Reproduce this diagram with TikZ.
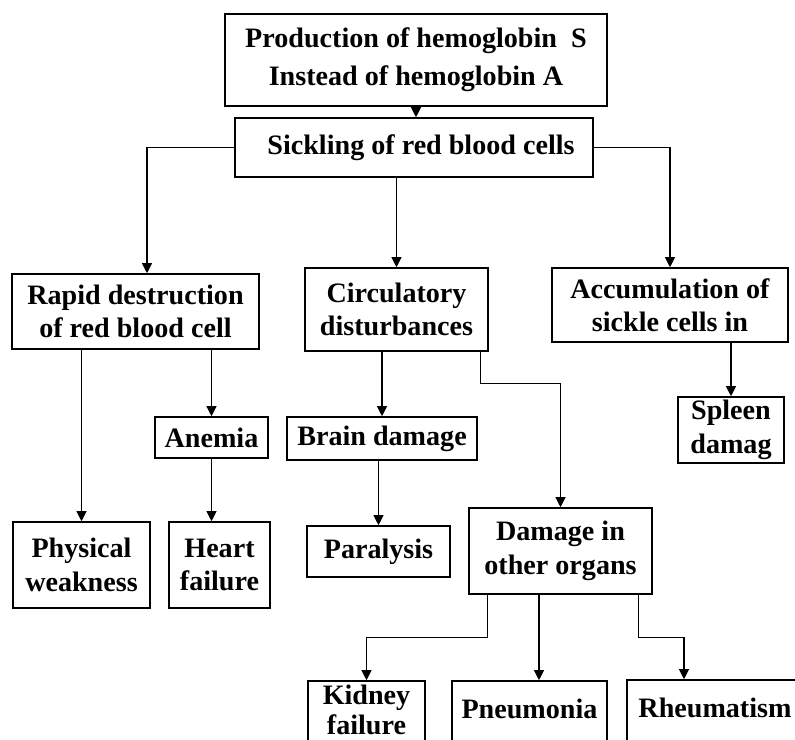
\documentclass[tikz,border=0pt]{standalone}
\usepackage{fontspec}
\setmainfont{Liberation Serif}
\usetikzlibrary{arrows.meta}

\begin{document}
\begin{tikzpicture}[x=0.02cm, y=-0.02cm,
    every node/.style={draw, line width=0.9pt, inner sep=1pt, align=center,
      font=\fontsize{16}{19}\selectfont\bfseries},
    arr/.style={-{Triangle[length=0.2cm, width=0.2cm]}, line width=0.6pt}]
  \useasboundingbox (0, 0) rectangle (795, 740);
  \clip (0, 0) rectangle (795, 740);
  \node[minimum width=7.64cm, minimum height=1.84cm, font=\fontsize{16}{21.5}\selectfont\bfseries] (prod) at (416, 60) {Production of hemoglobin\ \ S\\Instead of hemoglobin A};
  \node[minimum width=7.16cm, minimum height=1.18cm] (sick) at (414, 147.5) {\ \ Sickling of red blood cells};
  \node[minimum width=4.94cm, minimum height=1.5cm] (rapid) at (135.5, 311.5) {Rapid destruction\\of red blood cell};
  \node[minimum width=3.66cm, minimum height=1.66cm] (circ) at (396.5, 309.5) {Circulatory\\disturbances};
  \node[minimum width=4.72cm, minimum height=1.48cm] (accum) at (670, 305) {Accumulation of\\sickle cells in};
  \node[minimum width=2.26cm, minimum height=0.82cm] (anemia) at (211.5, 437.5) {Anemia};
  \node[minimum width=3.8cm, minimum height=0.86cm] (brain) at (382, 438.5) {Brain damage};
  \node[minimum width=2.12cm, minimum height=1.32cm] (spleen) at (731, 430) {Spleen\\damag};
  \node[minimum width=2.74cm, minimum height=1.72cm] (phys) at (81.5, 565) {Physical\\weakness};
  \node[minimum width=2.02cm, minimum height=1.72cm] (heart) at (219.5, 565) {Heart\\failure};
  \node[minimum width=2.86cm, minimum height=1.02cm] (para) at (378.5, 551.5) {Paralysis};
  \node[minimum width=3.66cm, minimum height=1.72cm] (damage) at (560.5, 551) {Damage in\\other organs};
  \node[minimum width=2.34cm, minimum height=1.4cm, text depth=0.24cm, font=\fontsize{16}{17}\selectfont\bfseries] (kidney) at (366.5, 716) {Kidney\\failure};
  \node[minimum width=3.1cm, minimum height=1.4cm, text depth=0.3cm] (pneu) at (529.5, 716) {Pneumonia};
  \node[minimum width=3.52cm, minimum height=1.4cm, text depth=0.3cm] (rheum) at (715, 715) {Rheumatism};
  \draw[arr] (prod.south) -- (prod.south |- sick.north);
  \draw[arr] (sick.west) -| ([xshift=0.23cm]rapid.north);
  \draw[arr] (circ.north |- sick.south) -- (circ.north);
  \draw[arr] (sick.east) -| (accum.north);
  \draw[arr] (phys.north |- rapid.south) -- (phys.north);
  \draw[arr] (anemia.north |- rapid.south) -- (anemia.north);
  \draw[arr] (anemia.south) -- (anemia.south |- heart.north);
  \draw[arr] (brain.north |- circ.south) -- (brain.north);
  \draw[arr] (para.north |- brain.south) -- (para.north);
  \draw[arr] ([xshift=-0.16cm]circ.south east) -- ++(0, 32) -| (damage.north);
  \draw[arr] (spleen.north |- accum.south) -- (spleen.north);
  \draw[arr] ([xshift=0.38cm]damage.south west) -- ++(0, 43) -| (kidney.north);
  \draw[arr] ([xshift=0.19cm]pneu.north |- damage.south) -- ([xshift=0.19cm]pneu.north);
  \draw[arr] ([xshift=-0.28cm]damage.south east) -- ++(0, 43) -| ([xshift=-0.62cm]rheum.north);
\end{tikzpicture}
\end{document}
